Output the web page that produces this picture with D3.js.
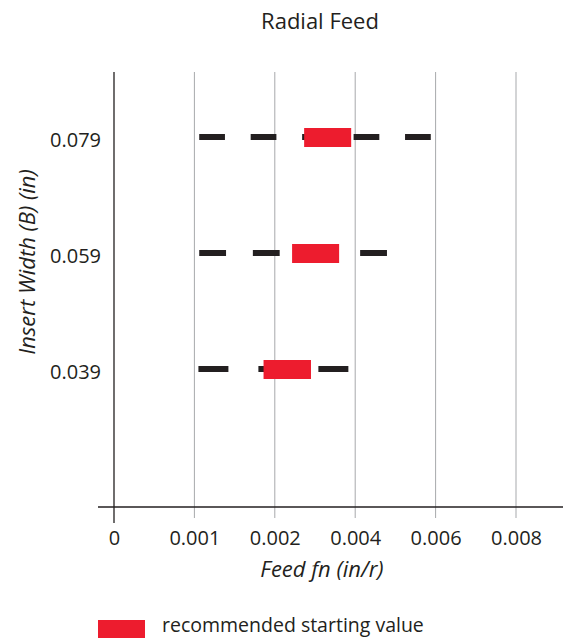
<!DOCTYPE html>
<html><head><meta charset="utf-8">
<script src="https://cdn.jsdelivr.net/npm/d3@7"></script>
<style>
body{margin:0;background:#fff;}
text{font-family:"Open Sans","Noto Sans",sans-serif;fill:#231f20;}
</style></head>
<body><svg id="c" width="579" height="638"></svg>
<script>
const xTicks = [0, 0.001, 0.002, 0.004, 0.006, 0.008];
const xTickLabels = ["0", "0.001", "0.002", "0.004", "0.006", "0.008"];
const widths = ["0.079", "0.059", "0.039"];
const rangeStart = [0.00106, 0.00106, 0.00105];
const rangeEnd = [0.00588, 0.00479, 0.00383];
const recStart = [0.00273, 0.00243, 0.00186];
const recEnd = [0.0039, 0.0036, 0.0029];

const svg = d3.select("#c");
const x0 = 114, step = 80.4;
const x = d3.scaleLinear().domain(xTicks).range(xTicks.map((d,i)=>x0+i*step));
const y = d3.scalePoint().domain(widths).range([140, 372]);
const plotTop = 72, axisY = 507;

// gridlines
svg.append("g").selectAll("line").data(xTicks.slice(1)).join("line")
  .attr("x1", d=>x(d)).attr("x2", d=>x(d)).attr("y1", plotTop).attr("y2", axisY+11)
  .attr("stroke", "#a7a9ac").attr("stroke-width", 1);

// axes lines
svg.append("line").attr("x1", 98).attr("x2", 563).attr("y1", axisY).attr("y2", axisY)
  .attr("stroke", "#231f20").attr("stroke-width", 1.3);
svg.append("line").attr("x1", x(0)).attr("x2", x(0)).attr("y1", plotTop).attr("y2", axisY+16)
  .attr("stroke", "#231f20").attr("stroke-width", 1.3);

// x tick labels
const xAxis = d3.axisBottom(x).tickValues(xTicks).tickFormat((d,i)=>xTickLabels[i]).tickSize(0).tickPadding(0);
const gx = svg.append("g").attr("transform", `translate(0,${axisY+38})`).call(xAxis);
gx.select(".domain").remove();
gx.selectAll("text").attr("font-size", 20).attr("fill", "#231f20").attr("dy", 0)
  .style("font-family", '"Open Sans",sans-serif');

// y tick labels
const yAxis = d3.axisLeft(y).tickSize(0).tickPadding(0);
const gy = svg.append("g").attr("transform", `translate(101,0)`).call(yAxis);
gy.select(".domain").remove();
gy.selectAll("text").attr("font-size", 20).attr("fill", "#231f20")
  .style("font-family", '"Open Sans",sans-serif');

// dashed ranges
widths.forEach((w,i)=>{
  const xa = x(rangeStart[i]), xb = x(rangeEnd[i]);
  const L = xb - xa;
  const n = Math.round((L/26 + 1)/2);
  const u = L/(2*n-1);
  svg.append("line").attr("x1", xa).attr("x2", xb).attr("y1", y(w)-3).attr("y2", y(w)-3)
    .attr("stroke", "#231f20").attr("stroke-width", 6).attr("stroke-dasharray", `${u},${u}`);
});
// recommended
svg.append("g").selectAll("rect").data(widths).join("rect")
  .attr("x", (d,i)=>x(recStart[i])).attr("width", (d,i)=>x(recEnd[i])-x(recStart[i]))
  .attr("y", d=>y(d)-12).attr("height", 19).attr("fill", "#ed1c2e");

// titles
svg.append("text").attr("x", 320).attr("y", 29).attr("text-anchor", "middle")
  .attr("font-size", 22).text("Radial Feed");
svg.append("text").attr("x", 322).attr("y", 577).attr("text-anchor", "middle")
  .attr("font-size", 22).attr("font-style", "italic").text("Feed fn (in/r)");
svg.append("text").attr("transform", "translate(35,262) rotate(-90)").attr("text-anchor", "middle")
  .attr("font-size", 22).attr("font-style", "italic").text("Insert Width (B) (in)");

// legend
svg.append("rect").attr("x", 98).attr("y", 620).attr("width", 47).attr("height", 18).attr("fill", "#ed1c2e");
svg.append("text").attr("x", 162).attr("y", 632).attr("font-size", 19.5).text("recommended starting value");
</script></body></html>
